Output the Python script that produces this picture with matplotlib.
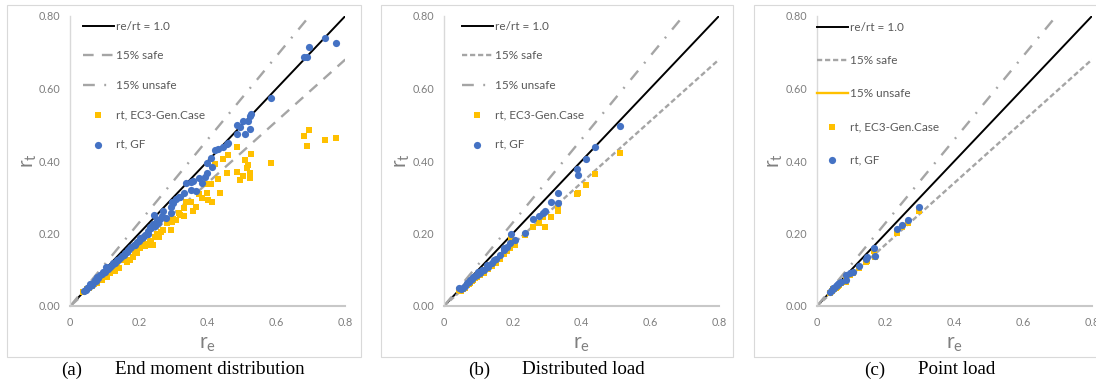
import matplotlib
matplotlib.use("Agg")
import matplotlib.pyplot as plt
from matplotlib.lines import Line2D
from matplotlib.patches import Rectangle

plt.rcParams['font.family'] = ['Lato', 'DejaVu Sans']
plt.rcParams['mathtext.default'] = 'regular'

# ---------------- data ----------------
# reference lines
ideal_x = [0.0, 0.8]
ideal_y = [0.0, 0.8]
safe_x = [0.0, 0.8]
safe_y = [0.0, 0.68]
unsafe_x = [0.0, 0.696]
unsafe_y = [0.0, 0.8]

# (a) End moment distribution
a_gf_re = [0.741, 0.772, 0.695, 0.688, 0.681, 0.584, 0.527, 0.523, 0.518, 0.501, 0.486, 0.495,
           0.524, 0.486, 0.508, 0.460, 0.455, 0.443, 0.430, 0.421, 0.408, 0.412, 0.399, 0.397,
           0.391, 0.382, 0.375, 0.358, 0.352, 0.338, 0.350, 0.365, 0.331, 0.315, 0.308, 0.295,
           0.292, 0.271, 0.279, 0.292, 0.244, 0.253, 0.241, 0.232, 0.222, 0.212, 0.203, 0.195,
           0.188, 0.178, 0.169, 0.159, 0.149, 0.135, 0.125, 0.115, 0.104, 0.096, 0.086, 0.077,
           0.072, 0.057, 0.048, 0.040, 0.262, 0.255, 0.236, 0.226, 0.218, 0.208, 0.199, 0.184,
           0.174, 0.165, 0.155, 0.145, 0.140, 0.130, 0.120, 0.110, 0.100, 0.092, 0.082, 0.075,
           0.066, 0.062, 0.053, 0.045, 0.225, 0.246, 0.267, 0.300, 0.320]
a_gf_rt = [0.740, 0.726, 0.715, 0.688, 0.686, 0.573, 0.529, 0.524, 0.511, 0.510, 0.500, 0.493,
           0.488, 0.474, 0.474, 0.449, 0.447, 0.440, 0.432, 0.429, 0.409, 0.383, 0.395, 0.366,
           0.357, 0.338, 0.352, 0.346, 0.343, 0.340, 0.320, 0.318, 0.313, 0.302, 0.296, 0.286,
           0.272, 0.262, 0.242, 0.256, 0.251, 0.237, 0.226, 0.219, 0.200, 0.191, 0.187, 0.177,
           0.168, 0.162, 0.154, 0.145, 0.138, 0.127, 0.118, 0.108, 0.108, 0.095, 0.086, 0.081,
           0.072, 0.061, 0.051, 0.042, 0.240, 0.230, 0.215, 0.208, 0.196, 0.188, 0.180, 0.168,
           0.160, 0.150, 0.142, 0.133, 0.128, 0.120, 0.112, 0.102, 0.094, 0.088, 0.077, 0.070,
           0.063, 0.058, 0.052, 0.045, 0.198, 0.222, 0.248, 0.283, 0.300]
a_ec3_re = [0.772, 0.741, 0.695, 0.681, 0.688, 0.584, 0.527, 0.524, 0.523, 0.518, 0.515, 0.508,
            0.501, 0.495, 0.486, 0.486, 0.460, 0.455, 0.443, 0.435, 0.430, 0.421, 0.412, 0.408,
            0.401, 0.397, 0.391, 0.382, 0.375, 0.365, 0.358, 0.352, 0.338, 0.331, 0.331, 0.315,
            0.308, 0.295, 0.292, 0.280, 0.271, 0.259, 0.251, 0.241, 0.232, 0.222, 0.212, 0.203,
            0.193, 0.183, 0.174, 0.164, 0.143, 0.130, 0.115, 0.106, 0.091, 0.077, 0.062, 0.048,
            0.038, 0.236, 0.227, 0.218, 0.246, 0.265, 0.300, 0.320, 0.155, 0.135, 0.122, 0.098,
            0.085, 0.070, 0.055, 0.198, 0.188]
a_ec3_rt = [0.464, 0.458, 0.486, 0.470, 0.442, 0.395, 0.419, 0.366, 0.354, 0.389, 0.380, 0.403,
            0.360, 0.348, 0.440, 0.370, 0.417, 0.366, 0.405, 0.311, 0.349, 0.392, 0.288, 0.337,
            0.292, 0.313, 0.337, 0.297, 0.309, 0.274, 0.263, 0.288, 0.288, 0.269, 0.248, 0.256,
            0.237, 0.233, 0.210, 0.228, 0.210, 0.191, 0.200, 0.168, 0.177, 0.168, 0.177, 0.159,
            0.145, 0.136, 0.127, 0.122, 0.104, 0.097, 0.090, 0.081, 0.072, 0.064, 0.055, 0.046,
            0.040, 0.180, 0.170, 0.165, 0.190, 0.205, 0.240, 0.250, 0.128, 0.112, 0.100, 0.085,
            0.075, 0.060, 0.050, 0.160, 0.150]

# (b) Distributed load
b_gf_re = [0.511, 0.438, 0.413, 0.387, 0.391, 0.331, 0.311, 0.331, 0.293, 0.289, 0.275, 0.258,
           0.236, 0.195, 0.207, 0.192, 0.183, 0.175, 0.163, 0.151, 0.139, 0.129, 0.115, 0.105,
           0.095, 0.085, 0.076, 0.068, 0.054, 0.045, 0.110, 0.100, 0.090, 0.080, 0.072, 0.060,
           0.050, 0.125, 0.145, 0.175]
b_gf_rt = [0.497, 0.440, 0.406, 0.377, 0.361, 0.311, 0.287, 0.283, 0.262, 0.256, 0.248, 0.239,
           0.202, 0.200, 0.182, 0.173, 0.164, 0.154, 0.141, 0.129, 0.118, 0.108, 0.099, 0.092,
           0.086, 0.079, 0.072, 0.064, 0.051, 0.049, 0.100, 0.094, 0.082, 0.074, 0.066, 0.056,
           0.046, 0.112, 0.126, 0.160]
b_ec3_re = [0.511, 0.438, 0.413, 0.387, 0.391, 0.331, 0.331, 0.311, 0.293, 0.289, 0.275, 0.258,
            0.236, 0.195, 0.207, 0.192, 0.183, 0.175, 0.163, 0.151, 0.139, 0.129, 0.115, 0.105,
            0.095, 0.085, 0.076, 0.068, 0.054, 0.045, 0.110, 0.100, 0.090, 0.080, 0.072, 0.060,
            0.050, 0.125, 0.145, 0.175]
b_ec3_rt = [0.421, 0.365, 0.334, 0.308, 0.313, 0.269, 0.263, 0.245, 0.219, 0.245, 0.230, 0.217,
            0.196, 0.187, 0.168, 0.159, 0.153, 0.143, 0.131, 0.120, 0.111, 0.101, 0.092, 0.086,
            0.079, 0.072, 0.064, 0.058, 0.046, 0.044, 0.092, 0.086, 0.076, 0.068, 0.061, 0.051,
            0.042, 0.104, 0.118, 0.150]

# (c) Point load
c_gf_re = [0.296, 0.265, 0.248, 0.233, 0.166, 0.170, 0.146, 0.142, 0.121, 0.105, 0.097, 0.083,
           0.083, 0.071, 0.061, 0.054, 0.047, 0.039, 0.065, 0.058, 0.050, 0.043]
c_gf_rt = [0.272, 0.237, 0.223, 0.212, 0.161, 0.138, 0.134, 0.129, 0.110, 0.095, 0.090, 0.086,
           0.072, 0.067, 0.061, 0.055, 0.049, 0.040, 0.063, 0.057, 0.051, 0.044]
c_ec3_re = [0.296, 0.265, 0.248, 0.233, 0.166, 0.170, 0.146, 0.142, 0.121, 0.105, 0.097, 0.083,
            0.083, 0.071, 0.061, 0.054, 0.047, 0.039, 0.065, 0.058, 0.050, 0.043]
c_ec3_rt = [0.262, 0.230, 0.217, 0.202, 0.153, 0.134, 0.125, 0.122, 0.106, 0.090, 0.086, 0.081,
            0.067, 0.063, 0.055, 0.051, 0.046, 0.037, 0.058, 0.053, 0.047, 0.041]

x_ticks = [0, 0.2, 0.4, 0.6, 0.8]
x_ticklabels = ['0', '0.2', '0.4', '0.6', '0.8']
y_ticks = [0, 0.2, 0.4, 0.6, 0.8]
y_ticklabels = ['0.00', '0.20', '0.40', '0.60', '0.80']

captions = [('(a)', 'End moment distribution'),
            ('(b)', 'Distributed load'),
            ('(c)', 'Point load')]
legend_labels = ['re/rt = 1.0', '15% safe', '15% unsafe', 'rt, EC3-Gen.Case', 'rt, GF']

# ---------------- style ----------------
W, H = 1096, 385
BLUE = '#4472C4'
YEL = '#FFC000'
GRAY = '#A5A5A5'
TXT = '#7F7F7F'
LEG = '#595959'

fig = plt.figure(figsize=(W / 100, H / 100), dpi=100)

axes_left_px = [70.3, 444, 817]
frames_px = [(7, 361), (381, 733), (754, 1100)]
cap_px = [(72, 115), (479, 522), (875, 918)]
safe_dash = [(4.5, 3.5), (2.2, 1.2), (2.2, 1.2)]
unsafe_dash = [(5, 4, 0.8, 4), (5, 4, 0.8, 4), (5, 4, 0.8, 4)]
leg_anchor = [(83, 21), (462, 21), (817, 22)]
leg_spacing = [1.56, 1.56, 1.87]

datasets = [(a_ec3_re, a_ec3_rt, a_gf_re, a_gf_rt),
            (b_ec3_re, b_ec3_rt, b_gf_re, b_gf_rt),
            (c_ec3_re, c_ec3_rt, c_gf_re, c_gf_rt)]

for i in range(3):
    fl, fr = frames_px[i]
    fig.add_artist(Rectangle((fl / W, (H - 357) / H), (fr - fl) / W, 352 / H,
                             transform=fig.transFigure, fill=False,
                             edgecolor='#D9D9D9', linewidth=0.8))
    ax = fig.add_axes([axes_left_px[i] / W, (H - 306) / H, 275 / W, 290 / H])
    ax.set_xlim(0, 0.8)
    ax.set_ylim(0, 0.8)
    ax.patch.set_alpha(0)
    for s in ['top', 'right']:
        ax.spines[s].set_visible(False)
    ax.spines['left'].set_color('#D9D9D9')
    ax.spines['left'].set_linewidth(1.0)
    ax.spines['bottom'].set_color('#C8C8C8')
    ax.spines['bottom'].set_linewidth(1.5)
    ax.set_xticks(x_ticks)
    ax.set_xticklabels(x_ticklabels)
    ax.set_yticks(y_ticks)
    ax.set_yticklabels(y_ticklabels)
    ax.tick_params(length=0, labelsize=7.8, labelcolor=TXT)
    ax.tick_params(axis='y', pad=7)
    ax.tick_params(axis='x', pad=8)

    l1, = ax.plot(ideal_x, ideal_y, color='black', lw=1.4, zorder=2)
    l2, = ax.plot(safe_x, safe_y, color=GRAY, lw=1.7, dashes=safe_dash[i], zorder=2)
    l3, = ax.plot(unsafe_x, unsafe_y, color=GRAY, lw=1.7, dashes=unsafe_dash[i], zorder=2)

    ex, ey, gx, gy = datasets[i]
    s1 = ax.scatter(ex, ey, marker='s', s=24, color=YEL, linewidths=0, zorder=3)
    s2 = ax.scatter(gx, gy, marker='o', s=27, color=BLUE, linewidths=0, zorder=4)

    if i == 2:
        h3 = Line2D([], [], color=YEL, lw=1.7)
    else:
        h3 = l3
    ax.legend([l1, l2, h3, s1, s2], legend_labels, loc='upper left',
              bbox_to_anchor=((leg_anchor[i][0] - axes_left_px[i]) / 275, 1 + (16 - leg_anchor[i][1]) / 290),
              frameon=False, fontsize=8.5, labelcolor=LEG, handlelength=2.6,
              handletextpad=0.2, labelspacing=leg_spacing[i], borderaxespad=0,
              borderpad=0, scatterpoints=1)

    ax.set_ylabel('r$_t$', fontsize=15, color=TXT, rotation=90)
    ax.yaxis.set_label_coords(-0.115, 0.5)
    ax.set_xlabel('r$_e$', fontsize=15, color=TXT)
    ax.xaxis.set_label_coords(0.5, -0.095)

    fig.text(cap_px[i][0] / W, (H - 370) / H, captions[i][0], family='Liberation Serif',
             fontsize=13.7, ha='center', va='center')
    fig.text(cap_px[i][1] / W, (H - 370) / H, captions[i][1], family='Liberation Serif',
             fontsize=13.7, ha='left', va='center')

fig.savefig('out.png', dpi=100)
